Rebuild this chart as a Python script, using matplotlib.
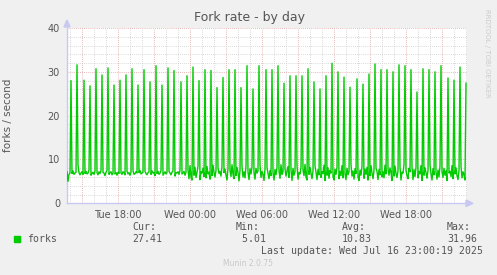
import matplotlib
matplotlib.use("Agg")
import matplotlib.pyplot as plt
import numpy as np

# --- data (5-minute samples, Tue 13:45 .. Wed 23:05) ---
start_hour = 13.75          # hours after Tue 00:00
step_min = 5

base = [
    7.2, 5.01, 6.6, 7.0, 7.1, 6.8, 7.4, 6.6, 6.9, 7.1, 7.3, 8.8, 7.0, 6.5, 6.9, 7.2, 6.6, 7.0, 6.8, 7.3,
    6.7, 6.9, 7.6, 7.0, 6.4, 6.8, 7.1, 6.6, 7.3, 6.9, 7.0, 6.5, 7.2, 6.8, 7.4, 6.6, 7.0, 6.9, 6.3, 7.1,
    7.5, 6.8, 6.6, 7.0, 7.2, 6.5, 6.9, 7.3, 6.7, 7.0, 6.4, 7.1, 6.8, 7.6, 6.9, 6.6, 7.2, 7.0, 6.5, 6.9,
    7.3, 6.7, 7.0, 6.4, 7.1, 6.9, 7.4, 6.6, 6.8, 7.2, 6.9, 6.3, 7.0, 7.5, 6.7, 6.9, 7.1, 6.6, 7.3, 6.8,
    6.5, 7.0, 7.2, 6.8, 6.6, 7.4, 6.9, 7.0, 6.3, 7.1, 6.8, 7.3, 6.6, 6.9, 7.5, 7.0, 6.4, 6.8, 7.2, 6.7,
    7.0, 6.6, 7.3, 6.9, 6.5, 7.1, 7.4, 6.8, 6.2, 7.0, 6.9, 7.2, 6.6, 7.5, 7.0, 6.7, 6.9, 7.3, 6.4, 7.1,
    6.8, 7.6, 5.6, 8.6, 6.0, 5.3, 7.8, 6.4, 8.2, 5.9, 7.0, 8.5, 6.6, 5.4, 7.2, 6.9, 8.0, 6.1, 7.4, 5.8,
    8.4, 6.7, 7.1, 5.5, 7.9, 6.3, 8.7, 7.0, 6.0, 7.5, 5.2, 8.1, 6.8, 7.3, 6.2, 8.5, 5.7, 7.0, 7.8, 6.4,
    5.3, 8.0, 6.9, 7.4, 6.1, 8.8, 6.6, 5.6, 7.7, 6.3, 8.2, 7.0, 5.1, 7.5, 6.8, 8.4, 6.0, 7.2, 5.8, 8.6,
    6.5, 7.1, 5.4, 7.9, 6.7, 8.3, 6.2, 7.0, 5.5, 8.0, 6.9, 7.4, 6.1, 8.7, 5.9, 7.3, 6.6, 5.2, 7.8, 6.4,
    8.1, 6.8, 5.6, 7.5, 6.3, 8.5, 7.0, 5.3, 7.7, 6.5, 8.2, 6.0, 7.4, 5.7, 8.8, 6.6, 7.1, 5.4, 7.9, 6.2,
    7.3, 8.4, 5.9, 6.8, 7.6, 5.2, 8.0, 6.4, 7.2, 6.1, 8.6, 5.5, 7.0, 6.7, 8.3, 5.8, 7.5, 6.3, 8.9, 6.0,
    5.3, 7.8, 6.6, 8.2, 6.9, 5.6, 7.4, 6.2, 8.5, 7.1, 5.4, 7.7, 6.5, 8.0, 5.9, 7.2, 6.8, 8.7, 5.2, 7.0,
    6.4, 8.1, 5.7, 7.5, 6.9, 8.4, 6.1, 5.3, 7.8, 6.6, 8.2, 7.0, 5.6, 7.3, 6.3, 8.6, 5.8, 7.6, 6.7, 5.4,
    8.0, 6.5, 7.2, 5.9, 8.8, 6.2, 7.4, 5.5, 7.9, 6.8, 8.3, 6.0, 5.2, 7.6, 6.4, 8.5, 7.1, 5.7, 7.8, 6.6,
    8.2, 5.3, 7.0, 6.3, 8.6, 6.9, 5.6, 7.5, 6.1, 8.0, 7.3, 5.4, 7.7, 6.5, 8.4, 6.0, 7.2, 5.8, 8.7, 6.7,
    5.5, 7.9, 6.4, 8.1, 7.0, 5.2, 7.6, 6.2, 8.5, 6.8, 5.9, 7.4, 6.6, 8.3, 5.3, 7.1, 6.9, 8.8, 6.0, 7.5,
    6.3, 5.6, 8.0, 7.2, 6.5, 8.4, 5.4, 7.7, 6.1, 8.2, 6.9, 5.8, 7.3, 6.7, 8.6, 5.2, 7.8, 6.4, 8.1, 7.0,
    5.7, 7.5, 6.2, 8.7, 6.8, 5.3, 7.9, 6.5, 8.3, 7.1, 5.5, 7.6, 6.0, 8.5, 6.6, 7.2, 5.9, 8.0, 6.4, 7.4,
    5.2, 8.2, 6.9, 7.3, 6.1, 8.6, 5.6, 7.8, 6.7, 8.1, 6.3, 5.4, 7.5, 7.0, 8.4, 5.8, 7.2, 6.5, 5.3, 7.6,
]

spike_idx = [4, 10, 17, 23, 29, 35, 41, 47, 53, 59, 65, 71, 77, 83, 89, 95, 101, 107, 114, 120,
             126, 132, 138, 144, 150, 156, 162, 168, 174, 180, 186, 192, 199, 205, 211, 217, 223, 229,
             235, 241, 247, 253, 259, 265, 271, 277, 283, 290, 296, 302, 308, 314, 320, 326, 332, 338,
             344, 350, 356, 362, 368, 374, 381, 387, 393, 399]
spike_val = [28.0, 31.6, 28.1, 26.8, 30.7, 29.3, 30.9, 27.0, 28.1, 29.3, 30.7, 27.0, 30.5, 27.7,
             31.4, 27.0, 30.9, 30.3, 27.7, 29.1, 31.1, 28.0, 30.5, 30.3, 26.4, 28.7, 30.5, 30.5,
             26.4, 31.4, 26.1, 31.4, 30.5, 30.5, 31.4, 27.4, 29.1, 29.1, 29.1, 30.7, 27.7, 26.1,
             29.1, 31.96, 30.0, 28.8, 26.5, 28.4, 27.2, 29.5, 31.8, 30.5, 30.5, 30.0, 31.6, 31.4,
             30.5, 25.4, 30.7, 30.5, 30.0, 31.4, 28.6, 28.1, 31.1, 27.41]

tick_pos = [18, 24, 30, 36, 42]
tick_lab = ["Tue 18:00", "Wed 00:00", "Wed 06:00", "Wed 12:00", "Wed 18:00"]

forks = np.array(base)
forks[spike_idx] = spike_val
hours = start_hour + np.arange(len(forks)) * step_min / 60.0
x_end = start_hour + len(forks) * step_min / 60.0

bg = "#F0F0F0"
txt = "#555555"
mono = "DejaVu Sans Mono"

fig = plt.figure(figsize=(4.97, 2.75), dpi=100, facecolor=bg)
ax = fig.add_axes([67 / 497, 1 - 203.3 / 275, 400 / 497, 175.3 / 275])
ax.set_facecolor("white")

# grid
for h in np.arange(14, 48, 1):
    c = "#E0A0A0" if h % 3 == 0 else "#CCCCCC"
    ax.axvline(h, color=c, lw=0.6, ls=(0, (1, 1.5)), zorder=1)
for v in np.arange(2, 41, 2):
    c = "#E0A0A0" if v % 10 == 0 else "#CCCCCC"
    ax.axhline(v, color=c, lw=0.6, ls=(0, (1, 1.5)), zorder=1)

ax.plot(hours, forks, color="#00CC00", lw=1.0, zorder=3)

ax.set_xlim(start_hour, x_end)
ax.set_ylim(0, 40)
ax.set_xticks(tick_pos)
ax.set_xticklabels(tick_lab)
ax.set_yticks([0, 10, 20, 30, 40])
ax.tick_params(length=0, labelsize=7, colors=txt, pad=5)
for s in ["top", "right"]:
    ax.spines[s].set_visible(False)
for s in ["left", "bottom"]:
    ax.spines[s].set_color("#C8C8F0")
    ax.spines[s].set_linewidth(1)
ax.set_ylabel("forks / second", fontsize=7.5, color=txt)
ax.yaxis.set_label_coords(-0.135, 0.5)

# axis arrows
fig.patches.append(plt.Polygon([[64 / 497, 1 - 27 / 275], [70 / 497, 1 - 27 / 275], [67 / 497, 1 - 20 / 275]],
                               closed=True, color="#C8C8F0", transform=fig.transFigure))
fig.patches.append(plt.Polygon([[466 / 497, 1 - 200 / 275], [466 / 497, 1 - 206.5 / 275], [473 / 497, 1 - 203.3 / 275]],
                               closed=True, color="#C8C8F0", transform=fig.transFigure))

fig.text(250 / 497, 1 - 18 / 275, "Fork rate - by day", ha="center", va="center", fontsize=9, color=txt)
fig.text(487 / 497, 1 - 53 / 275, "RRDTOOL / TOBI OETIKER", ha="center", va="center",
         rotation=270, fontsize=5, color="#CCCCCC")

# legend
fig.patches.append(plt.Rectangle((14 / 497, 1 - 242 / 275), 6 / 497, 6 / 275, color="#00CC00",
                                 transform=fig.transFigure))
fig.text(27 / 497, 1 - 239 / 275, "forks", fontsize=7.1, family=mono, color=txt, va="center")
cols = [(132, "Cur:", "27.41"), (236, "Min:", " 5.01"), (342, "Avg:", "10.83"), (447, "Max:", "31.96")]
for x, lab, val in cols:
    fig.text(x / 497, 1 - 227.5 / 275, lab, fontsize=7.1, family=mono, color=txt, va="center")
    fig.text(x / 497, 1 - 239 / 275, val, fontsize=7.1, family=mono, color=txt, va="center")
fig.text(483 / 497, 1 - 251.5 / 275, "Last update: Wed Jul 16 23:00:19 2025", fontsize=7.1,
         family=mono, color=txt, va="center", ha="right")
fig.text(248 / 497, 1 - 264 / 275, "Munin 2.0.75", fontsize=5.5, color="#C8C8C8", va="center", ha="center")

fig.savefig("out.png", dpi=100, facecolor=bg)
